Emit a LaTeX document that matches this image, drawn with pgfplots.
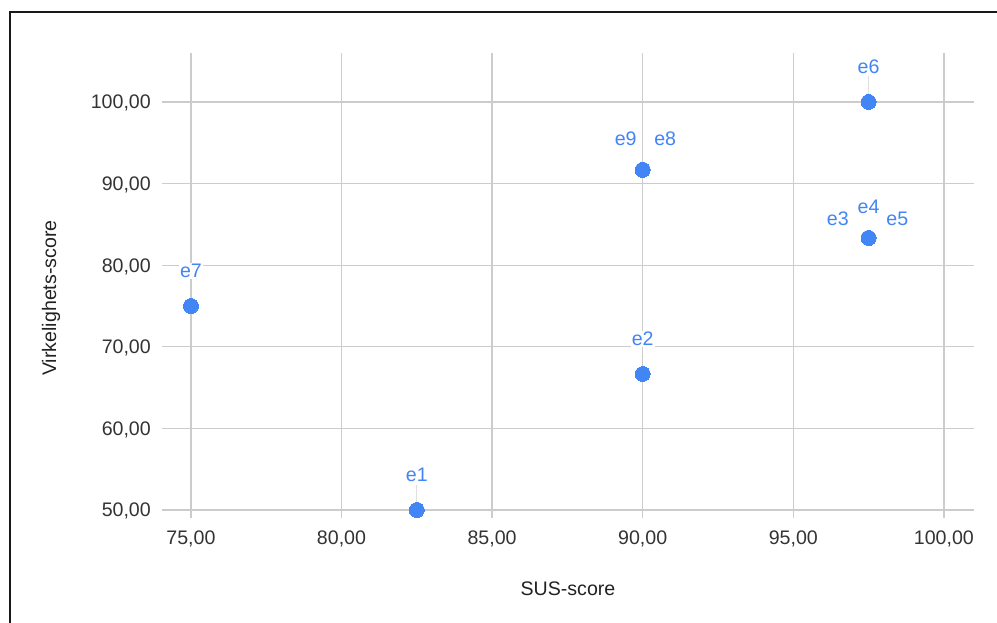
\documentclass[border=0pt]{standalone}
\usepackage{pgfplots}
\pgfplotsset{compat=1.18}
\usepackage{pgfplotstable}
\usepackage{fontspec}
\setmainfont{Liberation Sans}
\definecolor{gblue}{HTML}{4285F4}
\definecolor{gridc}{HTML}{CCCCCC}
\definecolor{leadc}{HTML}{E0E0E0}
\definecolor{tickc}{HTML}{333333}
\definecolor{titlec}{HTML}{222222}
\newcommand\chartfont{\fontsize{19.6}{23.5}\selectfont}

% x = SUS-score, y = Virkelighets-score, dx/dy = label offset in px
\pgfplotstableread{
x y lab dx dy
82.5 50 e1 0 35
90 66.67 e2 0 35
97.5 83.33 e3 -30.7 19.3
97.5 83.33 e4 0 31.5
97.5 83.33 e5 28.8 19.3
97.5 100 e6 0 35
75 75 e7 0 35
90 91.67 e8 22.5 31
90 91.67 e9 -17 31
}\data

\begin{document}
\begin{tikzpicture}
\useasboundingbox (0pt,0pt) rectangle (997pt,623pt);
\draw[line width=1.7pt, color=black!90] (9.7pt,0pt) -- (9.7pt,611.2pt) -- (997pt,611.2pt);
\begin{axis}[
    at={(162pt,105pt)}, anchor=south west,
    scale only axis, width=812pt, height=465pt,
    xmin=74.04, xmax=101.0, ymin=49.02, ymax=106.0,
    xtick={75,80,...,100}, ytick={50,60,...,100},
    grid=major,
    major grid style={draw=gridc, line width=1.3pt},
    axis line style={draw=none},
    major tick length=0pt,
    clip=false,
    scaled ticks=false,
    /pgf/number format/fixed,
    /pgf/number format/fixed zerofill,
    /pgf/number format/precision=2,
    /pgf/number format/use comma,
    /pgf/number format/assume math mode=true,
    every tick label/.append style={font=\chartfont, text=tickc},
    xticklabel style={anchor=base, yshift=-27pt, inner sep=0pt},
    yticklabel style={anchor=base east, xshift=-11pt, yshift=-7pt, inner sep=0pt},
    xlabel={SUS-score},
    xlabel style={at={(axis description cs:0.5,-0.1677)}, anchor=base,
        font=\chartfont, text=titlec, inner sep=0pt},
    ylabel={Virkelighets-score},
    ylabel style={at={(axis description cs:-0.1305,0.473)}, anchor=base,
        font=\chartfont, text=titlec, inner sep=0pt},
]
% leader lines
\addplot[leadc, line width=1.3pt, forget plot] coordinates {(82.5,50) (82.5,53.06)};
\addplot[leadc, line width=1.3pt, forget plot] coordinates {(97.5,100) (97.5,103.19)};
% points with labels
\addplot[only marks, mark=*, mark size=7.5pt,
    mark options={fill=gblue, draw=gblue, line width=0pt},
    nodes near coords, point meta=explicit symbolic,
    nodes near coords align=center,
    visualization depends on={\thisrow{dx} \as \dx},
    visualization depends on={\thisrow{dy} \as \dy},
    every node near coord/.append style={anchor=center, xshift=\dx pt, yshift=\dy pt,
        font=\chartfont, text=gblue, fill=white, inner sep=1pt},
] table[x=x, y=y, meta=lab] {\data};
\end{axis}
\end{tikzpicture}
\end{document}
